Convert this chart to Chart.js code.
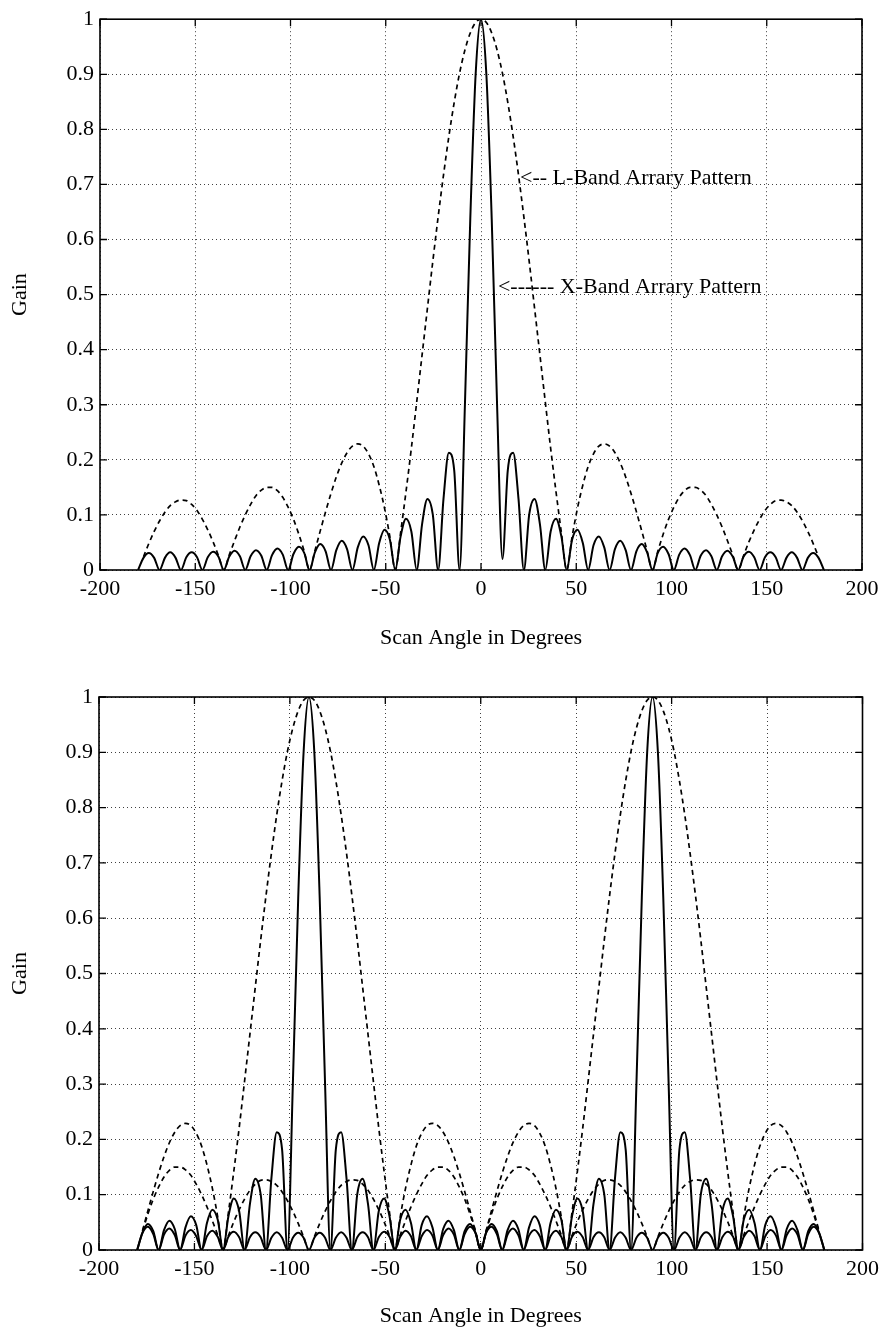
<!DOCTYPE html>
<html>
<head>
<meta charset="utf-8">
<title>L-Band / X-Band Array Patterns</title>
<script src="https://cdn.jsdelivr.net/npm/chart.js@4.4.1/dist/chart.umd.min.js"></script>
<style>
  html, body { margin: 0; padding: 0; background: #fff; }
  #wrap { position: relative; width: 885px; height: 1331px; }
  canvas { position: absolute; left: 0; }
  #topChart { top: 0; }
  #bottomChart { top: 660px; }
</style>
</head>
<body>
<div id="wrap">
  <canvas id="topChart" width="885" height="660"></canvas>
  <canvas id="bottomChart" width="885" height="671"></canvas>
</div>
<script>
const FONT = "'Liberation Serif', 'Times New Roman', serif";

// Scan angles (degrees) shared by every curve
const angles = [
  -180, -177.19, -174.38, -171.56, -168.75, -165.94, -163.13, -160.31,
  -157.5, -154.69, -151.88, -149.06, -146.25, -143.44, -140.63, -137.81,
  -135, -132.19, -129.38, -126.56, -123.75, -120.94, -118.13, -115.31,
  -112.5, -109.69, -106.88, -104.06, -101.25, -98.44, -95.63, -92.81,
  -90, -87.19, -84.38, -81.56, -78.75, -75.94, -73.13, -70.31,
  -67.5, -64.69, -61.88, -59.06, -56.25, -53.44, -50.63, -47.81,
  -45, -42.19, -39.38, -36.56, -33.75, -30.94, -28.13, -25.31,
  -22.5, -19.69, -16.88, -14.06, -11.25, -8.44, -5.63, -2.81,
  0,
  2.81, 5.63, 8.44, 11.25, 14.06, 16.88, 19.69, 22.5,
  25.31, 28.13, 30.94, 33.75, 36.56, 39.38, 42.19, 45,
  47.81, 50.63, 53.44, 56.25, 59.06, 61.88, 64.69, 67.5,
  70.31, 73.13, 75.94, 78.75, 81.56, 84.38, 87.19, 90,
  92.81, 95.63, 98.44, 101.25, 104.06, 106.88, 109.69, 112.5,
  115.31, 118.13, 120.94, 123.75, 126.56, 129.38, 132.19, 135,
  137.81, 140.63, 143.44, 146.25, 149.06, 151.88, 154.69, 157.5,
  160.31, 163.13, 165.94, 168.75, 171.56, 174.38, 177.19, 180
];

// Top plot: broadside beams
const xBandTop = [
  0, 0.022, 0.031, 0.022, 0, 0.022, 0.032, 0.022,
  0, 0.023, 0.032, 0.023, 0, 0.023, 0.033, 0.024,
  0, 0.024, 0.035, 0.025, 0, 0.025, 0.036, 0.026,
  0, 0.027, 0.039, 0.028, 0, 0.029, 0.042, 0.031,
  0, 0.032, 0.047, 0.034, 0, 0.036, 0.053, 0.038,
  0, 0.041, 0.061, 0.045, 0, 0.049, 0.073, 0.055,
  0, 0.061, 0.093, 0.070, 0, 0.083, 0.129, 0.101,
  0, 0.129, 0.213, 0.181, 0, 0.300, 0.637, 0.900,
  1,
  0.900, 0.637, 0.300, 0.02, 0.181, 0.213, 0.129, 0,
  0.101, 0.129, 0.083, 0, 0.070, 0.093, 0.061, 0,
  0.055, 0.073, 0.049, 0, 0.045, 0.061, 0.041, 0,
  0.038, 0.053, 0.036, 0, 0.034, 0.047, 0.032, 0,
  0.031, 0.042, 0.029, 0, 0.028, 0.039, 0.027, 0,
  0.026, 0.036, 0.025, 0, 0.025, 0.035, 0.024, 0,
  0.024, 0.033, 0.023, 0, 0.023, 0.032, 0.023, 0,
  0.022, 0.032, 0.022, 0, 0.022, 0.031, 0.022, 0
];

const lBandTop = [
  null, 0.024, 0.048, 0.070, 0.089, 0.105, 0.117, 0.124,
  0.127, 0.126, 0.119, 0.108, 0.092, 0.073, 0.051, 0.026,
  0, 0.027, 0.053, 0.078, 0.100, 0.119, 0.135, 0.145,
  0.150, 0.150, 0.144, 0.132, 0.114, 0.092, 0.065, 0.034,
  0, 0.035, 0.071, 0.106, 0.139, 0.169, 0.194, 0.213,
  0.225, 0.229, 0.225, 0.211, 0.188, 0.154, 0.112, 0.060,
  0, 0.068, 0.142, 0.221, 0.305, 0.390, 0.475, 0.560,
  0.641, 0.717, 0.787, 0.849, 0.902, 0.944, 0.975, 0.994,
  1,
  0.994, 0.975, 0.944, 0.902, 0.849, 0.787, 0.717, 0.641,
  0.560, 0.475, 0.390, 0.305, 0.221, 0.142, 0.068, 0,
  0.060, 0.112, 0.154, 0.188, 0.211, 0.225, 0.229, 0.225,
  0.213, 0.194, 0.169, 0.139, 0.106, 0.071, 0.035, 0,
  0.034, 0.065, 0.092, 0.114, 0.132, 0.144, 0.150, 0.150,
  0.145, 0.135, 0.119, 0.100, 0.078, 0.053, 0.027, 0,
  0.026, 0.051, 0.073, 0.092, 0.108, 0.119, 0.126, 0.127,
  0.124, 0.117, 0.105, 0.089, 0.070, 0.048, 0.024, null
];

// Bottom plot: beams scanned to -90 and +90 degrees
const xBandLeft = [
  0, 0.032, 0.047, 0.034, 0, 0.036, 0.053, 0.038,
  0, 0.041, 0.061, 0.045, 0, 0.049, 0.073, 0.055,
  0, 0.061, 0.093, 0.070, 0, 0.083, 0.129, 0.101,
  0, 0.129, 0.213, 0.181, 0, 0.300, 0.637, 0.900,
  1, 0.900, 0.637, 0.300, 0, 0.181, 0.213, 0.129,
  0, 0.101, 0.129, 0.083, 0, 0.070, 0.093, 0.061,
  0, 0.055, 0.073, 0.049, 0, 0.045, 0.061, 0.041,
  0, 0.038, 0.053, 0.036, 0, 0.034, 0.047, 0.032,
  0,
  0.031, 0.042, 0.029, 0, 0.028, 0.039, 0.027, 0,
  0.026, 0.036, 0.025, 0, 0.025, 0.035, 0.024, 0,
  0.024, 0.033, 0.023, 0, 0.023, 0.032, 0.023, 0,
  0.022, 0.032, 0.022, 0, 0.022, 0.031, 0.022, 0,
  0.022, 0.031, 0.022, 0, 0.022, 0.032, 0.022, 0,
  0.023, 0.032, 0.023, 0, 0.023, 0.033, 0.024, 0,
  0.024, 0.035, 0.025, 0, 0.025, 0.036, 0.026, 0,
  0.027, 0.039, 0.028, 0, 0.029, 0.042, 0.031, 0
];

const xBandRight = [
  0, 0.031, 0.042, 0.029, 0, 0.028, 0.039, 0.027,
  0, 0.026, 0.036, 0.025, 0, 0.025, 0.035, 0.024,
  0, 0.024, 0.033, 0.023, 0, 0.023, 0.032, 0.023,
  0, 0.022, 0.032, 0.022, 0, 0.022, 0.031, 0.022,
  0, 0.022, 0.031, 0.022, 0, 0.022, 0.032, 0.022,
  0, 0.023, 0.032, 0.023, 0, 0.023, 0.033, 0.024,
  0, 0.024, 0.035, 0.025, 0, 0.025, 0.036, 0.026,
  0, 0.027, 0.039, 0.028, 0, 0.029, 0.042, 0.031,
  0,
  0.032, 0.047, 0.034, 0, 0.036, 0.053, 0.038, 0,
  0.041, 0.061, 0.045, 0, 0.049, 0.073, 0.055, 0,
  0.061, 0.093, 0.070, 0, 0.083, 0.129, 0.101, 0,
  0.129, 0.213, 0.181, 0, 0.300, 0.637, 0.900, 1,
  0.900, 0.637, 0.300, 0, 0.181, 0.213, 0.129, 0,
  0.101, 0.129, 0.083, 0, 0.070, 0.093, 0.061, 0,
  0.055, 0.073, 0.049, 0, 0.045, 0.061, 0.041, 0,
  0.038, 0.053, 0.036, 0, 0.034, 0.047, 0.032, 0
];

const lBandLeft = [
  null, 0.035, 0.071, 0.106, 0.139, 0.169, 0.194, 0.213,
  0.225, 0.229, 0.225, 0.211, 0.188, 0.154, 0.112, 0.060,
  0, 0.068, 0.142, 0.221, 0.305, 0.390, 0.475, 0.560,
  0.641, 0.717, 0.787, 0.849, 0.902, 0.944, 0.975, 0.994,
  1, 0.994, 0.975, 0.944, 0.902, 0.849, 0.787, 0.717,
  0.641, 0.560, 0.475, 0.390, 0.305, 0.221, 0.142, 0.068,
  0, 0.060, 0.112, 0.154, 0.188, 0.211, 0.225, 0.229,
  0.225, 0.213, 0.194, 0.169, 0.139, 0.106, 0.071, 0.035,
  0,
  0.034, 0.065, 0.092, 0.114, 0.132, 0.144, 0.150, 0.150,
  0.145, 0.135, 0.119, 0.100, 0.078, 0.053, 0.027, 0,
  0.026, 0.051, 0.073, 0.092, 0.108, 0.119, 0.126, 0.127,
  0.124, 0.117, 0.105, 0.089, 0.070, 0.048, 0.024, 0,
  0.024, 0.048, 0.070, 0.089, 0.105, 0.117, 0.124, 0.127,
  0.126, 0.119, 0.108, 0.092, 0.073, 0.051, 0.026, 0,
  0.027, 0.053, 0.078, 0.100, 0.119, 0.135, 0.145, 0.150,
  0.150, 0.144, 0.132, 0.114, 0.092, 0.065, 0.034, null
];

const lBandRight = [
  null, 0.034, 0.065, 0.092, 0.114, 0.132, 0.144, 0.150,
  0.150, 0.145, 0.135, 0.119, 0.100, 0.078, 0.053, 0.027,
  0, 0.026, 0.051, 0.073, 0.092, 0.108, 0.119, 0.126,
  0.127, 0.124, 0.117, 0.105, 0.089, 0.070, 0.048, 0.024,
  0, 0.024, 0.048, 0.070, 0.089, 0.105, 0.117, 0.124,
  0.127, 0.126, 0.119, 0.108, 0.092, 0.073, 0.051, 0.026,
  0, 0.027, 0.053, 0.078, 0.100, 0.119, 0.135, 0.145,
  0.150, 0.150, 0.144, 0.132, 0.114, 0.092, 0.065, 0.034,
  0,
  0.035, 0.071, 0.106, 0.139, 0.169, 0.194, 0.213, 0.225,
  0.229, 0.225, 0.211, 0.188, 0.154, 0.112, 0.060, 0,
  0.068, 0.142, 0.221, 0.305, 0.390, 0.475, 0.560, 0.641,
  0.717, 0.787, 0.849, 0.902, 0.944, 0.975, 0.994, 1,
  0.994, 0.975, 0.944, 0.902, 0.849, 0.787, 0.717, 0.641,
  0.560, 0.475, 0.390, 0.305, 0.221, 0.142, 0.068, 0,
  0.060, 0.112, 0.154, 0.188, 0.211, 0.225, 0.229, 0.225,
  0.213, 0.194, 0.169, 0.139, 0.106, 0.071, 0.035, null
];

// Axis ticks
const xTicks = [-200, -150, -100, -50, 0, 50, 100, 150, 200];
const yTicks = [0, 0.1, 0.2, 0.3, 0.4, 0.5, 0.6, 0.7, 0.8, 0.9, 1];

// Text notes on the top plot (data coordinates)
const topNotes = [
  { text: '<-- L-Band Arrary Pattern', x: 20.5, y: 0.711 },
  { text: '<------ X-Band Arrary Pattern', x: 8.9, y: 0.513 }
];

function series(values) {
  return angles.map((a, i) => ({ x: a, y: values[i] }));
}

function solid(values) {
  return {
    data: series(values),
    borderColor: '#000',
    borderWidth: 2,
    pointRadius: 0,
    fill: false,
    cubicInterpolationMode: 'monotone'
  };
}

function dashed(values) {
  return {
    data: series(values),
    borderColor: '#000',
    borderWidth: 1.7,
    borderDash: [5, 4],
    pointRadius: 0,
    fill: false,
    cubicInterpolationMode: 'monotone'
  };
}

// Box round the plot with inward tick marks, plus optional notes
const framePlugin = {
  id: 'frame',
  afterDatasetsDraw(chart, args, opts) {
    const { ctx, chartArea: a, scales: { x, y } } = chart;
    ctx.save();
    ctx.setLineDash([]);
    ctx.strokeStyle = '#000';
    ctx.lineWidth = 1.6;
    ctx.strokeRect(a.left, a.top, a.right - a.left, a.bottom - a.top);

    ctx.lineWidth = 1.3;
    ctx.beginPath();
    xTicks.forEach(v => {
      const px = x.getPixelForValue(v);
      ctx.moveTo(px, a.bottom); ctx.lineTo(px, a.bottom - 7);
      ctx.moveTo(px, a.top); ctx.lineTo(px, a.top + 7);
    });
    yTicks.forEach(v => {
      const py = y.getPixelForValue(v);
      ctx.moveTo(a.left, py); ctx.lineTo(a.left + 7, py);
      ctx.moveTo(a.right, py); ctx.lineTo(a.right - 7, py);
    });
    ctx.stroke();

    const notes = (opts && opts.notes) || [];
    ctx.fillStyle = '#000';
    ctx.font = '22px ' + FONT;
    ctx.textAlign = 'left';
    ctx.textBaseline = 'middle';
    notes.forEach(n => {
      ctx.fillText(n.text, x.getPixelForValue(n.x), y.getPixelForValue(n.y));
    });
    ctx.restore();
  }
};

function makeChart(id, datasets, box, notes) {
  const ctx = document.getElementById(id).getContext('2d');
  return new Chart(ctx, {
    type: 'line',
    data: { datasets: datasets },
    options: {
      responsive: false,
      animation: false,
      devicePixelRatio: 1,
      layout: { padding: { top: box.top, right: box.right, left: 0, bottom: 0 } },
      plugins: {
        legend: { display: false },
        tooltip: { enabled: false },
        frame: { notes: notes }
      },
      scales: {
        x: {
          type: 'linear',
          min: -200,
          max: 200,
          afterFit: s => { s.height = box.xHeight; },
          afterBuildTicks: s => { s.ticks = xTicks.map(v => ({ value: v })); },
          grid: { color: 'rgba(0,0,0,0.75)', lineWidth: 1, drawTicks: false },
          border: { display: false, dash: [1, 3] },
          ticks: {
            padding: 6,
            color: '#000',
            font: { family: FONT, size: 22 },
            maxRotation: 0,
            callback: v => String(v)
          },
          title: {
            display: true,
            text: 'Scan Angle in Degrees',
            color: '#000',
            font: { family: FONT, size: 22 },
            padding: { top: 0, bottom: box.titlePad }
          }
        },
        y: {
          min: 0,
          max: 1,
          afterFit: s => { s.width = box.yWidth; },
          afterBuildTicks: s => { s.ticks = yTicks.map(v => ({ value: v })); },
          grid: { color: 'rgba(0,0,0,0.75)', lineWidth: 1, drawTicks: false },
          border: { display: false, dash: [1, 3] },
          ticks: {
            padding: 6,
            color: '#000',
            font: { family: FONT, size: 22 },
            callback: v => String(v)
          },
          title: {
            display: true,
            text: 'Gain',
            color: '#000',
            font: { family: FONT, size: 22 },
            padding: { top: 7, bottom: 0 }
          }
        }
      }
    },
    plugins: [framePlugin]
  });
}

makeChart('topChart',
  [solid(xBandTop), dashed(lBandTop)],
  { top: 16, right: 23, yWidth: 100, xHeight: 90, titlePad: 9 },
  topNotes);

makeChart('bottomChart',
  [solid(xBandLeft), solid(xBandRight), dashed(lBandLeft), dashed(lBandRight)],
  { top: 37, right: 21, yWidth: 99, xHeight: 81, titlePad: 2 },
  []);
</script>
</body>
</html>
